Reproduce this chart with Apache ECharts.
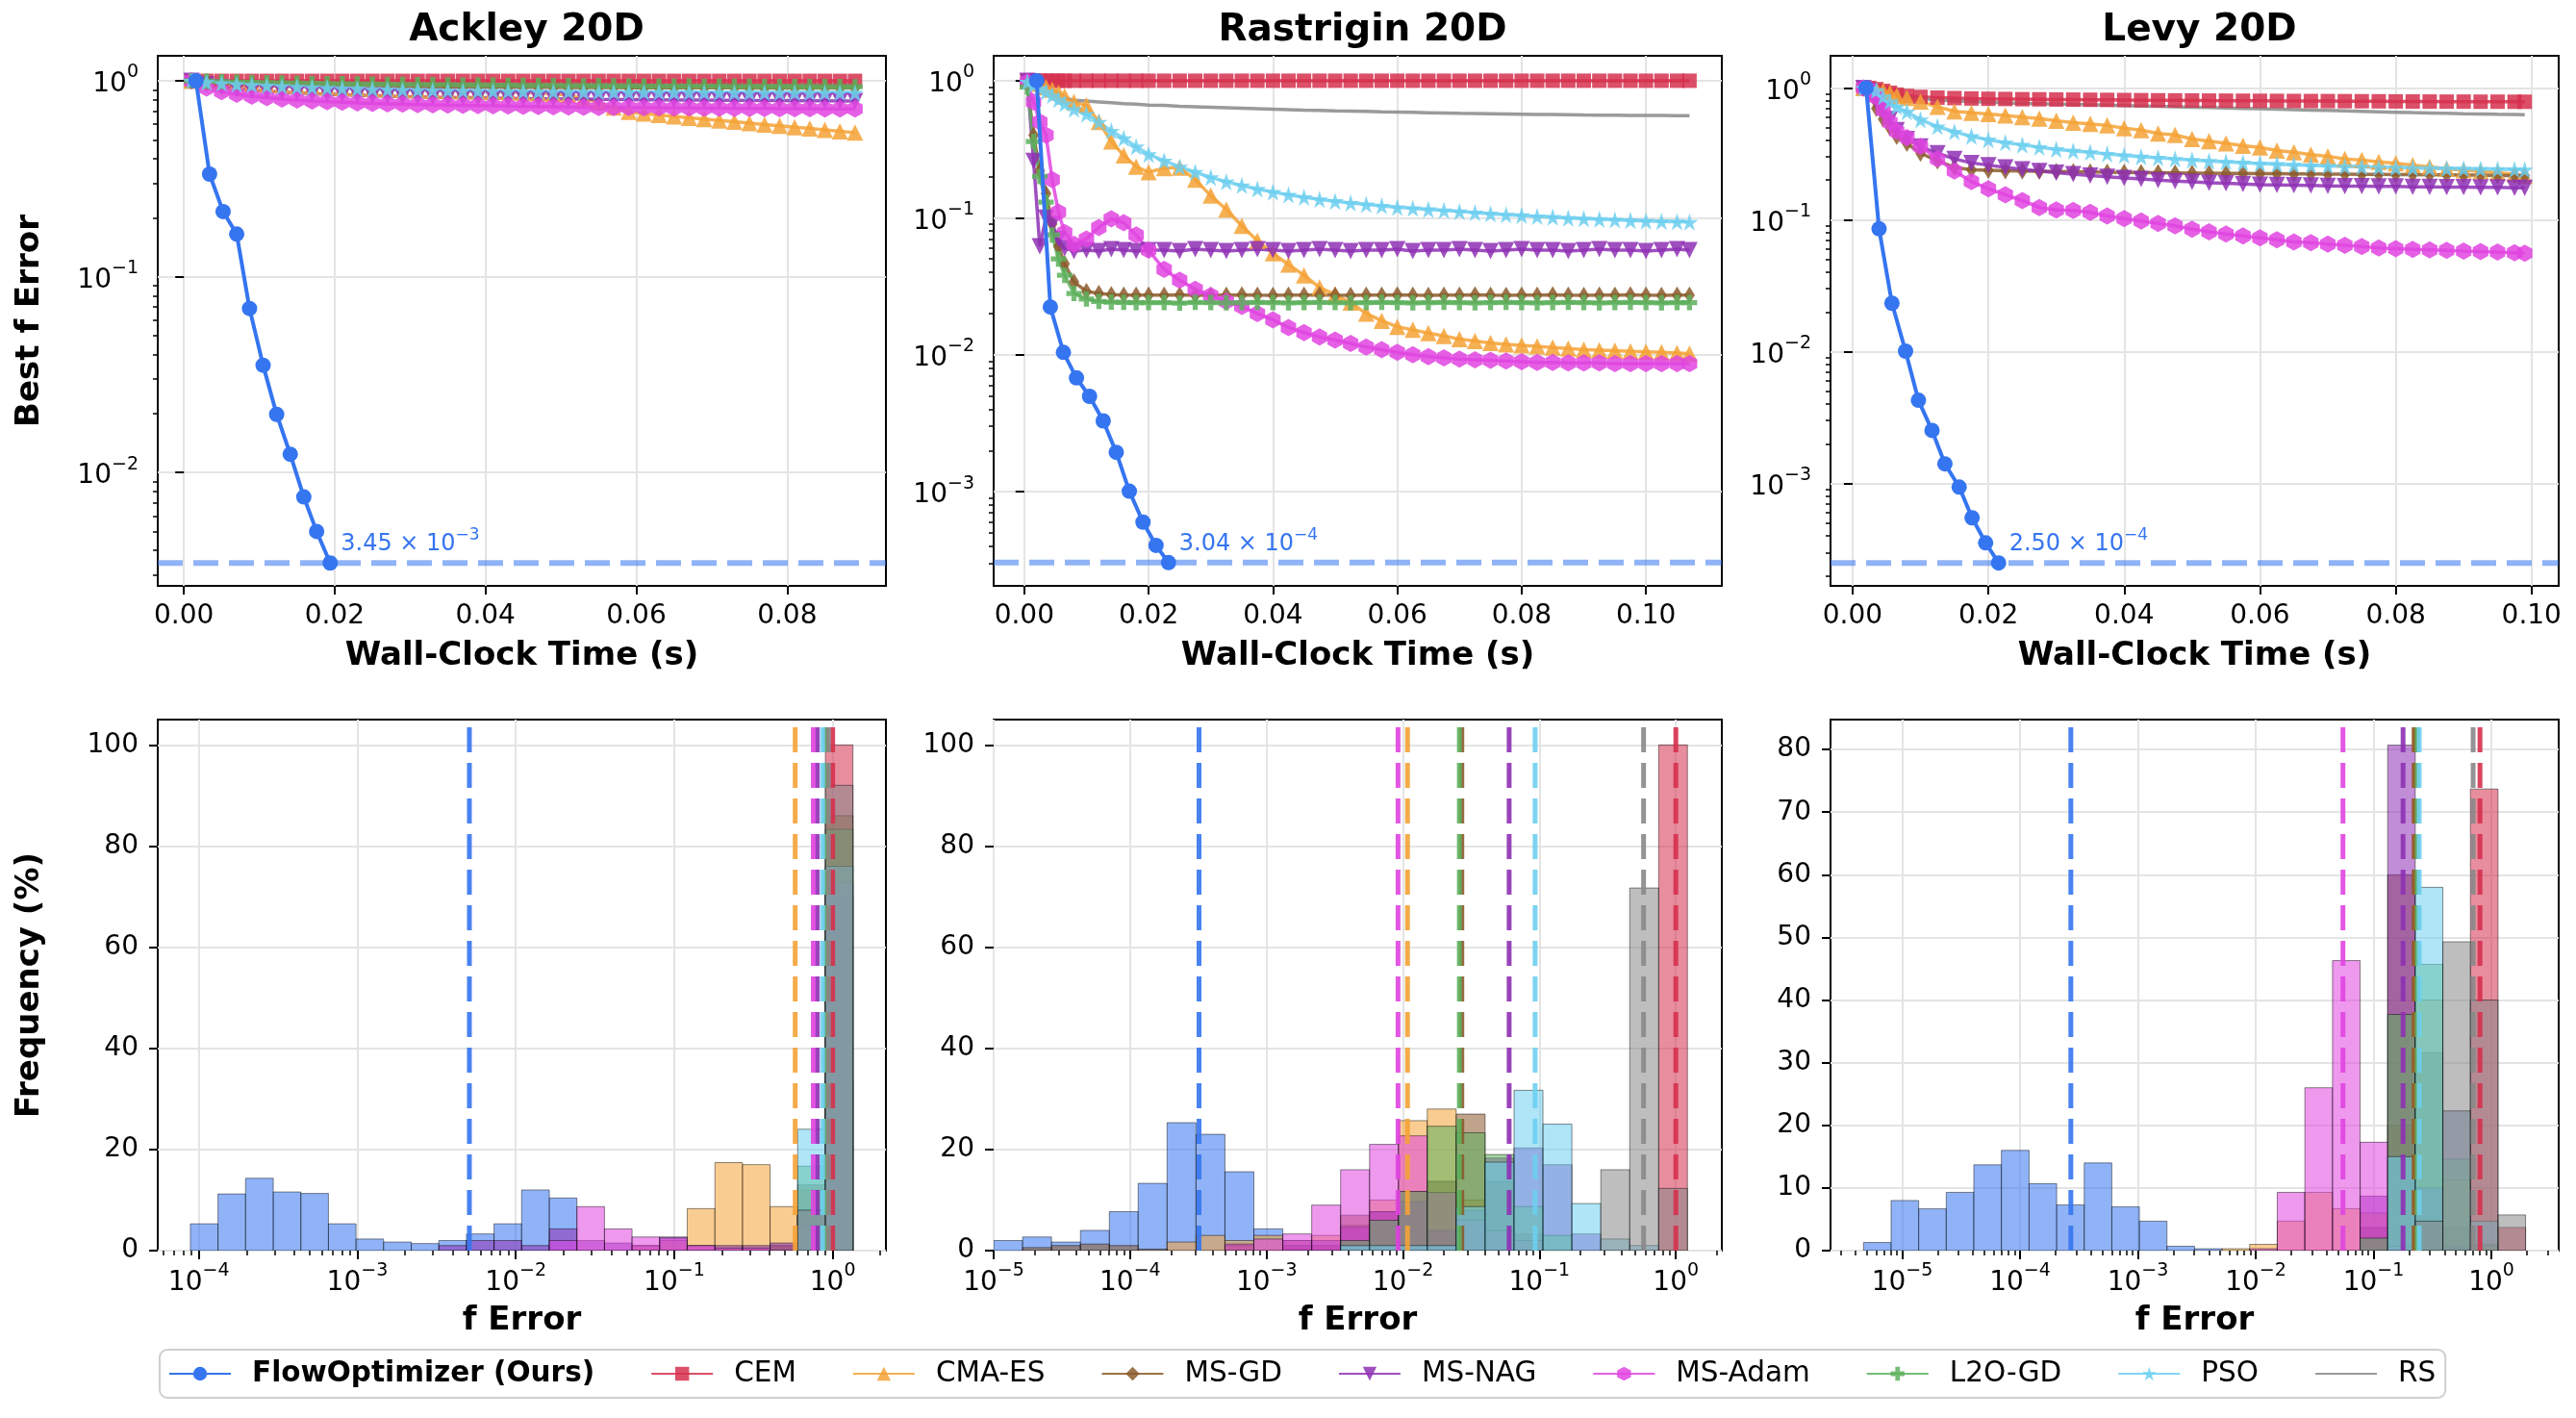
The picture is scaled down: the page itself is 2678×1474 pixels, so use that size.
<!DOCTYPE html>
<html><head><meta charset="utf-8">
<script src="https://cdn.jsdelivr.net/npm/echarts@6/dist/echarts.min.js"></script>
<style>html,body{margin:0;padding:0;background:#fff}#c{width:2678px;height:1474px}</style>
</head><body><div id="c"></div>
<script>
const FONT = 'DejaVu Sans';
const METHODS = ['FlowOptimizer (Ours)','CEM','CMA-ES','MS-GD','MS-NAG','MS-Adam','L2O-GD','PSO','RS'];
const COLORS = ['#3575F0','#D6304E','#F4A236','#8B5A2B','#8E30B4','#E044E0','#5DB05D','#6DCFF0','#888888'];

// ---------- top row: convergence curves ----------
const ACK_X_TICKS = [0, 0.02, 0.04, 0.06, 0.08];
const RAS_X_TICKS = [0, 0.02, 0.04, 0.06, 0.08, 0.10];
const LEVY_X_TICKS = [0, 0.02, 0.04, 0.06, 0.08, 0.10];
const ACK_Y_TICKS = [1e-2, 1e-1, 1];
const RAS_Y_TICKS = [1e-3, 1e-2, 1e-1, 1];
const LEVY_Y_TICKS = [1e-3, 1e-2, 1e-1, 1];

const ACK_FLOW_T = [0.0016,0.0034,0.0052,0.0070,0.0087,0.0105,0.0123,0.0141,0.0159,0.0176,0.0194];
const ACK_FLOW_V = [1.0,0.334,0.215,0.165,0.0688,0.0353,0.0198,0.0124,0.0075,0.0050,0.00345];
const RAS_FLOW_T = [0.0020,0.0042,0.0063,0.0084,0.0105,0.0127,0.0148,0.0169,0.0191,0.0212,0.0232];
const RAS_FLOW_V = [1.0,0.0223,0.0104,0.00677,0.00497,0.00329,0.00194,0.00101,0.00060,0.000406,0.000304];
const LEVY_FLOW_T = [0.0020,0.0039,0.0058,0.0078,0.0097,0.0117,0.0136,0.0157,0.0176,0.0196,0.0215];
const LEVY_FLOW_V = [1.0,0.0855,0.0233,0.0101,0.00428,0.00253,0.00141,0.00094,0.00055,0.000355,0.000250];
const FLOW_NOTES = [['3.45','\u22123'],['3.04','\u22124'],['2.50','\u22124']];

const ACK_T = [0.001,0.003,0.005,0.007,0.009,0.011,0.013,0.015,0.017,0.019,0.021,0.023,0.025,0.027,0.029,0.031,0.033,0.035,0.037,0.039,0.041,0.043,0.045,0.047,0.049,0.051,0.053,0.055,0.057,0.059,0.061,0.063,0.065,0.067,0.069,0.071,0.073,0.075,0.077,0.079,0.081,0.083,0.085,0.087,0.089];
const ACK_CEM = [1.0,1.0,1.0,1.0,1.0,1.0,1.0,1.0,1.0,1.0,1.0,1.0,1.0,1.0,1.0,1.0,1.0,1.0,1.0,1.0,1.0,1.0,1.0,1.0,1.0,1.0,1.0,1.0,1.0,1.0,1.0,1.0,1.0,1.0,1.0,1.0,1.0,1.0,1.0,1.0,1.0,1.0,1.0,1.0,1.0];
const ACK_CMAES = [1.000,0.990,0.982,0.975,0.968,0.960,0.952,0.944,0.936,0.928,0.920,0.914,0.909,0.904,0.899,0.895,0.892,0.889,0.886,0.883,0.880,0.876,0.872,0.866,0.858,0.845,0.815,0.775,0.730,0.695,0.682,0.670,0.659,0.648,0.638,0.628,0.618,0.608,0.598,0.589,0.580,0.571,0.562,0.553,0.544];
const ACK_MSGD = [1.0,0.99,0.982,0.975,0.969,0.964,0.959,0.955,0.951,0.948,0.945,0.942,0.94,0.938,0.936,0.934,0.933,0.932,0.931,0.93,0.929,0.928,0.927,0.926,0.926,0.925,0.925,0.924,0.924,0.923,0.923,0.922,0.922,0.922,0.921,0.921,0.921,0.92,0.92,0.92,0.92,0.919,0.919,0.919,0.919];
const ACK_MSNAG = [1.0,0.96,0.93,0.91,0.895,0.885,0.876,0.868,0.861,0.855,0.849,0.844,0.839,0.835,0.831,0.828,0.825,0.822,0.82,0.818,0.816,0.814,0.812,0.81,0.809,0.807,0.806,0.804,0.803,0.802,0.801,0.8,0.799,0.798,0.797,0.796,0.795,0.794,0.794,0.793,0.792,0.791,0.791,0.79,0.79];
const ACK_MSADAM = [1.000,0.920,0.880,0.855,0.835,0.820,0.808,0.798,0.790,0.783,0.777,0.772,0.767,0.763,0.760,0.757,0.754,0.751,0.749,0.747,0.745,0.743,0.741,0.739,0.737,0.735,0.734,0.732,0.731,0.730,0.729,0.728,0.727,0.726,0.725,0.724,0.723,0.722,0.722,0.721,0.720,0.720,0.719,0.719,0.718];
const ACK_L2O = [1.0,0.995,0.99,0.986,0.982,0.979,0.976,0.973,0.97,0.968,0.966,0.964,0.962,0.96,0.958,0.957,0.955,0.954,0.952,0.951,0.95,0.949,0.948,0.947,0.946,0.945,0.944,0.943,0.942,0.941,0.94,0.94,0.939,0.939,0.938,0.938,0.937,0.937,0.936,0.936,0.935,0.935,0.934,0.934,0.933];
const ACK_PSO = [1.0,0.985,0.972,0.962,0.953,0.945,0.938,0.932,0.926,0.921,0.916,0.912,0.908,0.904,0.901,0.898,0.895,0.893,0.891,0.889,0.887,0.885,0.884,0.882,0.881,0.88,0.879,0.878,0.877,0.876,0.875,0.875,0.874,0.874,0.873,0.873,0.872,0.872,0.871,0.871,0.871,0.870,0.870,0.870,0.869];
const ACK_RS = [1.0,0.995,0.99,0.986,0.983,0.98,0.978,0.976,0.974,0.972,0.971,0.97,0.969,0.968,0.967,0.966,0.965,0.965,0.964,0.964,0.963,0.963,0.962,0.962,0.962,0.961,0.961,0.961,0.96,0.96,0.96,0.96,0.959,0.959,0.959,0.959,0.958,0.958,0.958,0.958,0.958,0.957,0.957,0.957,0.957];

const RAS_T = [0.0005,0.0015,0.0025,0.0035,0.0045,0.0055,0.0065,0.0080,0.0100,0.0120,0.0140,0.0160,0.0180,0.0200,0.0225,0.0250,0.0275,0.0300,0.0325,0.0350,0.0375,0.0400,0.0425,0.0450,0.0475,0.0500,0.0525,0.0550,0.0575,0.0600,0.0625,0.0650,0.0675,0.0700,0.0725,0.0750,0.0775,0.0800,0.0825,0.0850,0.0875,0.0900,0.0925,0.0950,0.0975,0.1000,0.1025,0.1050,0.1070];
const RAS_CEM = [1.0,1.0,1.0,1.0,1.0,1.0,1.0,1.0,1.0,1.0,1.0,1.0,1.0,1.0,1.0,1.0,1.0,1.0,1.0,1.0,1.0,1.0,1.0,1.0,1.0,1.0,1.0,1.0,1.0,1.0,1.0,1.0,1.0,1.0,1.0,1.0,1.0,1.0,1.0,1.0,1.0,1.0,1.0,1.0,1.0,1.0,1.0,1.0,1.0];
const RAS_CMAES = [1.0,0.98,0.95,0.90,0.86,0.82,0.77,0.70,0.66,0.50,0.36,0.285,0.236,0.215,0.23,0.232,0.19,0.145,0.115,0.0872,0.068,0.055,0.0455,0.038,0.031,0.0275,0.024,0.020,0.0177,0.016,0.0152,0.0144,0.0137,0.013,0.0126,0.0122,0.0119,0.0117,0.0115,0.0113,0.0111,0.0109,0.0108,0.0107,0.0106,0.0105,0.0104,0.0103,0.0102];
const RAS_MSGD = [0.95,0.40,0.22,0.15,0.09,0.062,0.046,0.034,0.029,0.028,0.0275,0.0273,0.0272,0.0273,0.0272,0.0274,0.0271,0.0273,0.0272,0.0274,0.0272,0.0271,0.0273,0.0272,0.0274,0.0272,0.0271,0.0273,0.0272,0.0274,0.0272,0.0271,0.0273,0.0272,0.0274,0.0272,0.0271,0.0273,0.0272,0.0274,0.0272,0.0271,0.0273,0.0272,0.0274,0.0272,0.0271,0.0273,0.0272];
const RAS_MSNAG = [1.0,0.26,0.062,0.10,0.09,0.07,0.06,0.057,0.058,0.057,0.059,0.058,0.057,0.058,0.058,0.057,0.059,0.058,0.057,0.058,0.059,0.058,0.057,0.058,0.059,0.058,0.057,0.058,0.058,0.059,0.057,0.058,0.058,0.059,0.058,0.057,0.058,0.059,0.058,0.058,0.057,0.058,0.059,0.058,0.058,0.057,0.058,0.059,0.058];
const RAS_MSADAM = [0.98,0.70,0.50,0.40,0.19,0.11,0.078,0.064,0.070,0.085,0.098,0.092,0.075,0.058,0.042,0.035,0.030,0.027,0.0245,0.0225,0.020,0.018,0.0158,0.0145,0.0135,0.0128,0.0121,0.0114,0.0109,0.0104,0.0100,0.0097,0.0095,0.0093,0.0092,0.0091,0.0090,0.0089,0.0088,0.0088,0.0087,0.0087,0.0087,0.0086,0.0086,0.0086,0.0086,0.0086,0.0086];
const RAS_L2O = [0.90,0.36,0.20,0.13,0.075,0.05,0.038,0.028,0.0255,0.0245,0.0242,0.0241,0.024,0.024,0.024,0.0238,0.0241,0.024,0.0239,0.024,0.0241,0.024,0.0239,0.024,0.0241,0.024,0.0239,0.024,0.0241,0.024,0.0239,0.024,0.0241,0.024,0.0239,0.024,0.0241,0.024,0.0239,0.024,0.0241,0.024,0.0239,0.024,0.0241,0.024,0.0239,0.024,0.024];
const RAS_PSO = [0.98,0.93,0.88,0.83,0.78,0.73,0.68,0.62,0.57,0.50,0.43,0.38,0.33,0.29,0.26,0.235,0.215,0.197,0.183,0.172,0.162,0.154,0.147,0.141,0.136,0.132,0.128,0.125,0.122,0.119,0.117,0.115,0.113,0.111,0.109,0.107,0.105,0.104,0.102,0.101,0.0995,0.0985,0.0975,0.0965,0.0955,0.0948,0.094,0.0935,0.093];
const RAS_RS = [0.98,0.88,0.82,0.79,0.77,0.75,0.74,0.72,0.71,0.70,0.69,0.68,0.675,0.665,0.66,0.65,0.645,0.64,0.635,0.63,0.625,0.62,0.615,0.61,0.607,0.603,0.60,0.597,0.593,0.59,0.587,0.584,0.581,0.578,0.576,0.574,0.572,0.57,0.568,0.566,0.564,0.562,0.561,0.56,0.559,0.558,0.557,0.556,0.555];

const LEVY_T = [0.0016,0.0025,0.0035,0.0045,0.0055,0.0065,0.0080,0.0100,0.0125,0.0150,0.0175,0.0200,0.0225,0.0250,0.0275,0.0300,0.0325,0.0350,0.0375,0.0400,0.0425,0.0450,0.0475,0.0500,0.0525,0.0550,0.0575,0.0600,0.0625,0.0650,0.0675,0.0700,0.0725,0.0750,0.0775,0.0800,0.0825,0.0850,0.0875,0.0900,0.0925,0.0950,0.0975,0.0990];
const LEVY_CEM = [1.0,1.0,0.98,0.95,0.92,0.89,0.87,0.855,0.845,0.838,0.832,0.828,0.825,0.822,0.82,0.818,0.816,0.814,0.812,0.81,0.808,0.806,0.805,0.804,0.802,0.801,0.80,0.799,0.798,0.797,0.796,0.795,0.794,0.793,0.792,0.791,0.79,0.789,0.788,0.788,0.787,0.787,0.786,0.786];
const LEVY_CMAES = [1.0,1.0,0.98,0.95,0.92,0.875,0.84,0.79,0.72,0.665,0.647,0.635,0.62,0.60,0.586,0.565,0.545,0.535,0.52,0.495,0.48,0.452,0.44,0.41,0.395,0.38,0.364,0.354,0.335,0.325,0.312,0.303,0.29,0.284,0.275,0.268,0.26,0.252,0.244,0.238,0.234,0.228,0.222,0.216];
const LEVY_MSGD = [1.0,0.90,0.70,0.58,0.50,0.43,0.38,0.32,0.28,0.25,0.24,0.238,0.236,0.235,0.234,0.233,0.232,0.231,0.23,0.229,0.228,0.228,0.227,0.226,0.226,0.225,0.225,0.224,0.224,0.223,0.223,0.222,0.222,0.221,0.221,0.22,0.22,0.219,0.219,0.218,0.218,0.217,0.217,0.216];
const LEVY_MSNAG = [1.0,0.95,0.80,0.68,0.58,0.48,0.41,0.36,0.32,0.29,0.27,0.26,0.25,0.242,0.235,0.228,0.222,0.217,0.212,0.208,0.204,0.20,0.197,0.194,0.191,0.189,0.187,0.185,0.184,0.183,0.182,0.181,0.18,0.18,0.179,0.179,0.178,0.178,0.177,0.177,0.176,0.176,0.175,0.175];
const LEVY_MSADAM = [1.0,0.97,0.85,0.68,0.55,0.47,0.42,0.36,0.29,0.235,0.195,0.172,0.155,0.14,0.124,0.119,0.118,0.114,0.107,0.102,0.098,0.094,0.09,0.085,0.081,0.078,0.0755,0.073,0.0705,0.068,0.067,0.0655,0.064,0.0627,0.0612,0.0603,0.0596,0.0592,0.0586,0.058,0.0575,0.057,0.0562,0.0557];
const LEVY_PSO = [1.0,0.99,0.96,0.86,0.79,0.72,0.66,0.575,0.51,0.465,0.43,0.405,0.385,0.37,0.355,0.343,0.333,0.325,0.316,0.308,0.301,0.295,0.289,0.284,0.279,0.275,0.271,0.267,0.264,0.261,0.258,0.256,0.254,0.252,0.25,0.249,0.247,0.246,0.245,0.244,0.243,0.242,0.241,0.24];
const LEVY_RS = [1.0,0.99,0.95,0.92,0.90,0.87,0.85,0.83,0.81,0.80,0.79,0.78,0.77,0.765,0.76,0.755,0.75,0.745,0.74,0.735,0.73,0.725,0.72,0.715,0.71,0.705,0.70,0.695,0.69,0.685,0.68,0.675,0.67,0.665,0.66,0.655,0.65,0.646,0.642,0.638,0.635,0.632,0.63,0.628];

// ---------- bottom row: histograms (bin edges as log10 exponents, 24 bins) ----------
const ACK_EDGES = [-4.053,-3.879,-3.705,-3.530,-3.356,-3.182,-3.008,-2.834,-2.659,-2.485,-2.311,-2.137,-1.963,-1.788,-1.614,-1.440,-1.266,-1.092,-0.918,-0.743,-0.569,-0.395,-0.221,-0.046,0.128];
const RAS_EDGES = [-5.000,-4.788,-4.576,-4.364,-4.152,-3.941,-3.729,-3.517,-3.305,-3.093,-2.881,-2.669,-2.457,-2.245,-2.033,-1.822,-1.610,-1.398,-1.186,-0.974,-0.762,-0.550,-0.338,-0.126,0.085];
const LEVY_EDGES = [-5.328,-5.094,-4.860,-4.626,-4.392,-4.158,-3.923,-3.689,-3.455,-3.221,-2.987,-2.753,-2.519,-2.285,-2.051,-1.817,-1.583,-1.348,-1.114,-0.880,-0.646,-0.412,-0.178,0.056,0.290];

const ACK_HIST = [
  [5.3,11.2,14.3,11.6,11.3,5.3,2.3,1.7,1.4,2.0,3.3,5.3,12.0,10.4,0,0,0,0,0,0,0,0,0,0],
  [0,0,0,0,0,0,0,0,0,0,0,0,0,0,0,0,0,0,0,0,0,0,0,100],
  [0,0,0,0,0,0,0,0,0,0,0,0,0,0,0,0,1,2,8.3,17.4,17.0,8.7,12,33.6],
  [0,0,0,0,0,0,0,0,0,0,0,0,0,0,0,0,0,0,0,0,0,1,13,86],
  [0,0,0,0,0,0,0,0,0,1,2,2,1,4.3,2,1.5,1,2.7,1,1,1,1.5,8,70],
  [0,0,0,0,0,0,0,0,0,0,0,0,0,2,8.7,4.3,2.7,2.5,1,0.5,0.5,0,5,72.8],
  [0,0,0,0,0,0,0,0,0,0,0,0,0,0,0,0,0,0,0,0,0,0,16.7,83.3],
  [0,0,0,0,0,0,0,0,0,0,0,0,0,0,0,0,0,0,0,0,0,0,24,76],
  [0,0,0,0,0,0,0,0,0,0,0,0,0,0,0,0,0,0,0,0,0,0,8,92]
];
const RAS_HIST = [
  [2.0,2.7,1.7,4.0,7.7,13.3,25.3,23.0,15.6,4.3,0.4,0,0,0,0,0,0,0,0,0,0,0,0,0],
  [0,0,0,0,0,0,0,0,0,0,0,0,0,0,0,0,0,0,0,0,0,0,0,100],
  [0,0,0,0,0,0,1.7,3.0,2.0,3.0,2,3,5,10,25.7,28.0,10,4,2,0,0,0,0,0],
  [0,0.6,1.0,1.3,1.0,0.3,0,0,1,0,1,1,7,7.7,11.7,13.7,27.0,13.7,3.3,0,0,0,0,0],
  [0,0,0,0,0,0,0,0,0,0,2,2,4.7,7.7,9.7,4,8,18.3,20.3,17,3.3,0,0,0],
  [0,0,0,0,0,0,0,0,1.3,2.3,3.3,9.0,16.0,21.0,22.7,11.5,6,4,2,0,0,0,0,0],
  [0,0,0,0,0,0,0,0,0,0,0,0,2,6,11.7,24.6,23.3,19.0,8.7,3,0,0,0,0],
  [0,0,0,0,0,0,0,0,0,0,0,0,1,1,1,1,8.7,17.5,31.7,25.0,9.3,2.3,1,0],
  [0,0,0,0,0,0,0,0,0,0,0,0,0,0,0,0,0,0,0,0,0,16.0,71.7,12.3]
];
const LEVY_HIST = [
  [1.3,8.0,6.7,9.3,13.7,16.0,10.7,7.3,14.0,7.0,4.7,0.7,0.3,0,0,0,0,0,0,0,0,0,0,0],
  [0,0,0,0,0,0,0,0,0,0,0,0,0,0,0,0,0,0,0,0,0,22.3,73.7,3.7],
  [0,0,0,0,0,0,0,0,0,0,0,0,0,0.3,1.0,4.7,9.3,6.7,6.0,20,40,11.3,0.7,0],
  [0,0,0,0,0,0,0,0,0,0,0,0,0,0,0,0,0,0,3.7,60,31.6,3.7,1,0],
  [0,0,0,0,0,0,0,0,0,0,0,0,0,0,0,0,0,0,8.7,80.7,10,0.6,0,0],
  [0,0,0,0,0,0,0,0,0,0,0,0,0,0,0.3,9.3,26.0,46.3,17.3,0.7,0,0,0,0],
  [0,0,0,0,0,0,0,0,0,0,0,0,0,0,0,0,0,0,2,37.7,45.7,14.6,0,0],
  [0,0,0,0,0,0,0,0,0,0,0,0,0,0,0,0,0,0,0,15,58,22.3,4.7,0],
  [0,0,0,0,0,0,0,0,0,0,0,0,0,0,0,0,0,0,0,0,4.7,49.3,40,5.7]
];
const ACK_MEANS = [0.0051,1.0,0.58,0.92,0.80,0.755,0.90,0.865,0.94];
const RAS_MEANS = [0.00032,1.0,0.0108,0.027,0.060,0.0092,0.0259,0.093,0.58];
const LEVY_MEANS = [0.00027,0.80,0.225,0.221,0.178,0.055,0.235,0.244,0.70];
const ACK_HX_TICKS = [1e-4,1e-3,1e-2,1e-1,1];
const RAS_HX_TICKS = [1e-5,1e-4,1e-3,1e-2,1e-1,1];
const LEVY_HX_TICKS = [1e-5,1e-4,1e-3,1e-2,1e-1,1];
const FREQ_TICKS_100 = [0,20,40,60,80,100];
const FREQ_TICKS_80 = [0,10,20,30,40,50,60,70,80];

// ---------- styling ----------
const SYM = [
  {symbol:'circle', size:16},
  {symbol:'rect', size:15},
  {symbol:'triangle', size:17},
  {symbol:'diamond', size:[11,18]},
  {symbol:'path://M0,0L2,0L1,1.732Z', size:17},
  {symbol:'path://M0,-1L0.866,-0.5L0.866,0.5L0,1L-0.866,0.5L-0.866,-0.5Z', size:[16,18]},
  {symbol:'path://M-1,-0.33L-0.33,-0.33L-0.33,-1L0.33,-1L0.33,-0.33L1,-0.33L1,0.33L0.33,0.33L0.33,1L-0.33,1L-0.33,0.33L-1,0.33Z', size:16},
  {symbol:'path://M0,-1L0.2245,-0.309L0.951,-0.309L0.363,0.118L0.588,0.809L0,0.382L-0.588,0.809L-0.363,0.118L-0.951,-0.309L-0.2245,-0.309Z', size:18},
  {symbol:'none', size:0}
];
const COL_LEFT = [164, 1033, 1903];
const COL_W = 757;
const TOP_Y = 58, TOP_H = 551, BOT_Y = 748, BOT_H = 552;
const GRID_COLOR = '#e4e4e4';

function hexA(hex, a) { const n = parseInt(hex.slice(1), 16); return 'rgba(' + ((n >> 16) & 255) + ',' + ((n >> 8) & 255) + ',' + (n & 255) + ',' + a + ')'; }
function powLabel(v) { const e = Math.round(Math.log10(v)); return '{b|10}{s|' + (e < 0 ? '\u2212' + (-e) : String(e)) + '}'; }
const RICH = {
  b: {fontSize: 28, fontFamily: FONT, color: '#000', lineHeight: 36, verticalAlign: 'bottom'},
  s: {fontSize: 19, fontFamily: FONT, color: '#000', lineHeight: 14, verticalAlign: 'top'}
};
const MINOR = [];
for (let e = -7; e <= 1; e++) for (let m = 2; m <= 9; m++) MINOR.push(m * Math.pow(10, e));

const TOP_PANELS = [
  {title:'Ackley 20D', xMin:-0.00347, xMax:0.0931, yMin:Math.pow(10,-2.579), yMax:Math.pow(10,0.128), xTicks:ACK_X_TICKS, yTicks:ACK_Y_TICKS, t:ACK_T, flowT:ACK_FLOW_T, flowV:ACK_FLOW_V,
   base:[ACK_CEM,ACK_CMAES,ACK_MSGD,ACK_MSNAG,ACK_MSADAM,ACK_L2O,ACK_PSO,ACK_RS]},
  {title:'Rastrigin 20D', xMin:-0.00492, xMax:0.1122, yMin:Math.pow(10,-3.687), yMax:Math.pow(10,0.182), xTicks:RAS_X_TICKS, yTicks:RAS_Y_TICKS, t:RAS_T, flowT:RAS_FLOW_T, flowV:RAS_FLOW_V,
   base:[RAS_CEM,RAS_CMAES,RAS_MSGD,RAS_MSNAG,RAS_MSADAM,RAS_L2O,RAS_PSO,RAS_RS]},
  {title:'Levy 20D', xMin:-0.00325, xMax:0.1040, yMin:Math.pow(10,-3.776), yMax:Math.pow(10,0.244), xTicks:LEVY_X_TICKS, yTicks:LEVY_Y_TICKS, t:LEVY_T, flowT:LEVY_FLOW_T, flowV:LEVY_FLOW_V,
   base:[LEVY_CEM,LEVY_CMAES,LEVY_MSGD,LEVY_MSNAG,LEVY_MSADAM,null,LEVY_PSO,LEVY_RS]}
];
const HIST_PANELS = [
  {xMin:Math.pow(10,-4.259), xMax:Math.pow(10,0.336), yMax:105, yTicks:FREQ_TICKS_100, xTicks:ACK_HX_TICKS, edges:ACK_EDGES, values:ACK_HIST, means:ACK_MEANS},
  {xMin:Math.pow(10,-5.0002), xMax:Math.pow(10,0.337), yMax:105, yTicks:FREQ_TICKS_100, xTicks:RAS_HX_TICKS, edges:RAS_EDGES, values:RAS_HIST, means:RAS_MEANS},
  {xMin:Math.pow(10,-5.608), xMax:Math.pow(10,0.571), yMax:84.78, yTicks:FREQ_TICKS_80, xTicks:LEVY_HX_TICKS, edges:LEVY_EDGES, values:LEVY_HIST, means:LEVY_MEANS}
];

const tickStyle = (len, w) => ({show:true, inside:false, length:len, lineStyle:{color:'#000', width:w}});
const nameStyle = {fontSize: 34, fontWeight: 'bold', fontFamily: FONT, color: '#000'};
const grids = [], xAxes = [], yAxes = [], titles = [], series = [];

for (let p = 0; p < 3; p++) grids.push({left: COL_LEFT[p], top: TOP_Y, width: COL_W, height: TOP_H, show: true, borderColor: '#000', borderWidth: 2, containLabel: false});
for (let p = 0; p < 3; p++) grids.push({left: COL_LEFT[p], top: BOT_Y, width: COL_W, height: BOT_H, show: true, borderColor: '#000', borderWidth: 2, containLabel: false});

TOP_PANELS.forEach((tp, p) => {
  titles.push({text: tp.title, left: COL_LEFT[p] + COL_W / 2, top: 7, textAlign: 'center', textStyle: {fontSize: 39, fontWeight: 'bold', fontFamily: FONT, color: '#000'}});
  xAxes.push({type: 'value', gridIndex: p, min: tp.xMin, max: tp.xMax, position: 'bottom',
    axisLine: {show: false}, axisTick: Object.assign(tickStyle(9, 2), {customValues: tp.xTicks}),
    axisLabel: {customValues: tp.xTicks, formatter: v => v.toFixed(2), fontSize: 28, fontFamily: FONT, color: '#000', margin: 18},
    splitLine: {show: true, lineStyle: {color: GRID_COLOR, width: 2}},
    name: 'Wall-Clock Time (s)', nameLocation: 'middle', nameGap: 56, nameTextStyle: nameStyle});
  yAxes.push({type: 'log', logBase: 10, gridIndex: p, min: tp.yMin, max: tp.yMax, position: 'left',
    axisLine: {show: false}, axisTick: Object.assign(tickStyle(9, 2), {customValues: tp.yTicks}),
    axisLabel: {customValues: tp.yTicks, formatter: powLabel, rich: RICH, margin: 20},
    splitLine: {show: true, lineStyle: {color: GRID_COLOR, width: 2}},
    name: p === 0 ? 'Best f Error' : '', nameLocation: 'middle', nameGap: 116, nameTextStyle: nameStyle});
});
HIST_PANELS.forEach((hp, p) => {
  xAxes.push({type: 'log', logBase: 10, gridIndex: 3 + p, min: hp.xMin, max: hp.xMax, position: 'bottom',
    axisLine: {show: false}, axisTick: Object.assign(tickStyle(9, 2), {customValues: hp.xTicks}),
    axisLabel: {customValues: hp.xTicks, formatter: powLabel, rich: RICH, margin: 12},
    splitLine: {show: true, lineStyle: {color: GRID_COLOR, width: 2}},
    name: 'f Error', nameLocation: 'middle', nameGap: 56, nameTextStyle: nameStyle});
  yAxes.push({type: 'value', gridIndex: 3 + p, min: 0, max: hp.yMax, position: 'left',
    axisLine: {show: false}, axisTick: Object.assign(tickStyle(9, 2), {customValues: hp.yTicks}),
    axisLabel: {customValues: hp.yTicks, fontSize: 28, fontFamily: FONT, color: '#000', margin: 20},
    splitLine: {show: true, lineStyle: {color: GRID_COLOR, width: 2}},
    name: p === 0 ? 'Frequency (%)' : '', nameLocation: 'middle', nameGap: 116, nameTextStyle: nameStyle});
});
// minor ticks (x for histograms, y for curves)
HIST_PANELS.forEach((hp, p) => {
  xAxes.push({type: 'log', logBase: 10, gridIndex: 3 + p, min: hp.xMin, max: hp.xMax, position: 'bottom', offset: 0,
    axisLine: {show: false}, axisLabel: {show: false}, splitLine: {show: false},
    axisTick: Object.assign(tickStyle(5, 1.5), {customValues: MINOR})});
});
TOP_PANELS.forEach((tp, p) => {
  yAxes.push({type: 'log', logBase: 10, gridIndex: p, min: tp.yMin, max: tp.yMax, position: 'left', offset: 0,
    axisLine: {show: false}, axisLabel: {show: false}, splitLine: {show: false},
    axisTick: Object.assign(tickStyle(5, 1.5), {customValues: MINOR})});
});

// curve series
TOP_PANELS.forEach((tp, p) => {
  const fc = COLORS[0];
  const n = tp.flowT.length;
  const fdata = tp.flowT.map((t, k) => [t, tp.flowV[k]]);
  const note = FLOW_NOTES[p];
  fdata[n - 1] = {value: fdata[n - 1], label: {show: true, position: 'right', distance: 3, offset: [0, -22],
    formatter: '{a|' + note[0] + ' \u00d7 10}{s|' + note[1] + '}',
    rich: {a: {fontSize: 24, fontFamily: FONT, color: fc, lineHeight: 30, verticalAlign: 'bottom'},
           s: {fontSize: 17, fontFamily: FONT, color: fc, lineHeight: 12, verticalAlign: 'top'}}}};
  series.push({type: 'line', name: METHODS[0], xAxisIndex: p, yAxisIndex: p, z: 4, data: fdata,
    symbol: 'circle', symbolSize: 16, lineStyle: {color: fc, width: 4}, itemStyle: {color: fc},
    emphasis: {disabled: true}});
  // horizontal reference at the final value of the flow optimizer
  series.push({type: 'line', xAxisIndex: p, yAxisIndex: p, z: 3, silent: true, symbol: 'none',
    data: [[tp.xMin, tp.flowV[n - 1]], [tp.xMax, tp.flowV[n - 1]]],
    lineStyle: {color: fc, opacity: 0.55, width: 6, type: [26, 11]}, emphasis: {disabled: true}});
  tp.base.forEach((vals, j) => {
    if (!vals) return;
    const mi = j + 1, c = COLORS[mi];
    const data = [];
    tp.t.forEach((t, k) => { if (vals[k] !== undefined) data.push([t, vals[k]]); });
    series.push({type: 'line', name: METHODS[mi], xAxisIndex: p, yAxisIndex: p, z: 2, data,
      symbol: SYM[mi].symbol, symbolSize: SYM[mi].size, showSymbol: SYM[mi].symbol !== 'none',
      lineStyle: {color: c, width: 3.5, opacity: 0.85}, itemStyle: {color: c, opacity: 0.85},
      emphasis: {disabled: true}});
  });
});

// histogram series
HIST_PANELS.forEach((hp, p) => {
  METHODS.forEach((m, mi) => {
    const color = COLORS[mi];
    const data = [];
    hp.values[mi].forEach((h, i) => { if (h > 0) data.push([Math.pow(10, hp.edges[i]), Math.pow(10, hp.edges[i + 1]), h]); });
    series.push({type: 'custom', name: m, xAxisIndex: 3 + p, yAxisIndex: 3 + p, z: 2, clip: true,
      encode: {x: [0, 1], y: 2}, data,
      renderItem: (params, api) => {
        const a = api.coord([api.value(0), 0]);
        const b = api.coord([api.value(1), api.value(2)]);
        return {type: 'rect', shape: {x: a[0], y: b[1], width: b[0] - a[0], height: a[1] - b[1]},
          style: {fill: hexA(color, 0.55), stroke: 'rgba(0,0,0,0.45)', lineWidth: 1}};
      }});
  });
  // mean lines drawn above all bars
  METHODS.forEach((m, mi) => {
    series.push({type: 'line', xAxisIndex: 3 + p, yAxisIndex: 3 + p, z: 5, silent: true, symbol: 'none',
      data: [[hp.means[mi], 0], [hp.means[mi], hp.yMax]],
      lineStyle: {color: COLORS[mi], width: 5, type: [26, 11], opacity: 0.9}, emphasis: {disabled: true}});
  });
});

const legendData = METHODS.map(m => m === 'RS' ? {name: m, itemStyle: {opacity: 0}} : {name: m});

const chart = echarts.init(document.getElementById('c'), null, {renderer: 'canvas'});
chart.setOption({
  animation: false,
  backgroundColor: '#fff',
  textStyle: {fontFamily: FONT},
  title: titles,
  grid: grids,
  xAxis: xAxes,
  yAxis: yAxes,
  legend: {data: legendData, left: 166, top: 1403, orient: 'horizontal', itemWidth: 64, itemHeight: 18, itemGap: 58,
    padding: [10, 10, 10, 9], borderColor: '#cfcfcf', borderWidth: 2, borderRadius: 8, backgroundColor: '#fff',
    selectedMode: false,
    formatter: n => n === METHODS[0] ? '{b|' + n + '}' : n,
    textStyle: {fontSize: 29.5, fontFamily: FONT, color: '#000', padding: [0, 0, 0, 17],
      rich: {b: {fontSize: 29.5, fontWeight: 'bold', fontFamily: FONT, color: '#000'}}}},
  series: series
});
</script></body></html>
